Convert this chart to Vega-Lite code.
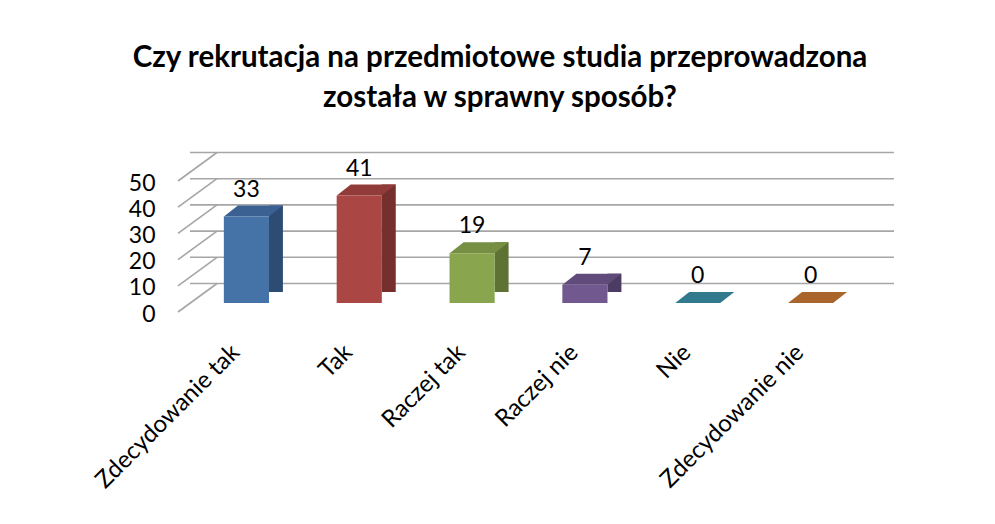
{
  "$schema": "https://vega.github.io/schema/vega-lite/v6.json",
  "width": 677,
  "height": 131,
  "autosize": {"type": "none"},
  "padding": {"left": 190, "top": 172, "right": 128, "bottom": 221},
  "background": "white",
  "config": {
    "view": {"stroke": null},
    "font": "Lato",
    "axisY": {"labelOverlap": false, "tickCount": 6, "values": [0, 10, 20, 30, 40, 50]}
  },
  "title": {
    "text": ["Czy rekrutacja na przedmiotowe studia przeprowadzona", "została w sprawny sposób?"],
    "anchor": "middle",
    "frame": "group",
    "dx": -28.5,
    "offset": 38,
    "font": "Lato",
    "fontSize": 29.5,
    "fontWeight": "bold",
    "lineHeight": 40,
    "color": "#000000"
  },
  "datasets": {
    "ticks": [{"v": 0}, {"v": 10}, {"v": 20}, {"v": 30}, {"v": 40}, {"v": 50}],
    "answers": [
      {"odp": "Zdecydowanie tak", "n": 33},
      {"odp": "Tak", "n": 41},
      {"odp": "Raczej tak", "n": 19},
      {"odp": "Raczej nie", "n": 7},
      {"odp": "Nie", "n": 0},
      {"odp": "Zdecydowanie nie", "n": 0}
    ]
  },
  "resolve": {"scale": {"color": "independent"}},
  "layer": [
    {
      "data": {"name": "ticks"},
      "mark": {"type": "rule", "color": "#a6a6a6", "strokeWidth": 1.6, "xOffset": 27, "x2Offset": 26, "yOffset": -19.5},
      "encoding": {
        "y": {"field": "v", "type": "quantitative", "scale": {"domain": [0, 50], "nice": false},
              "axis": {"values": [0, 10, 20, 30, 40, 50], "tickCount": 6, "domain": false, "ticks": false, "grid": false, "title": null,
                       "labelOverlap": false, "labelFontSize": 23, "labelFont": "Lato", "labelColor": "#000000",
                       "labelPadding": 35, "labelOffset": 11}}
      }
    },
    {
      "data": {"name": "ticks"},
      "mark": {"type": "rule", "color": "#a6a6a6", "strokeWidth": 1.6, "xOffset": -12, "x2Offset": 27, "yOffset": 9, "y2Offset": -19.5},
      "encoding": {
        "x": {"value": 0},
        "x2": {"value": 0},
        "y": {"field": "v", "type": "quantitative"},
        "y2": {"field": "v"}
      }
    },
    {
      "mark": {"type": "rule", "color": "#a6a6a6", "strokeWidth": 1.6, "xOffset": -12, "yOffset": 9, "y2Offset": 9},
      "encoding": {
        "x": {"value": 0},
        "y": {"datum": 0, "type": "quantitative"},
        "y2": {"datum": 50}
      }
    },
    {
      "mark": {"type": "rule", "color": "#a6a6a6", "strokeWidth": 1.6, "xOffset": -12, "x2Offset": -12, "yOffset": 9},
      "encoding": {
        "y": {"datum": 0, "type": "quantitative"}
      }
    },
    {
      "mark": {"type": "rule", "color": "#a6a6a6", "strokeWidth": 1.6, "xOffset": -12, "x2Offset": 26, "yOffset": 9, "y2Offset": -19.5},
      "encoding": {
        "x": {"value": "width"},
        "x2": {"value": "width"},
        "y": {"datum": 0, "type": "quantitative"},
        "y2": {"datum": 0}
      }
    },
    {
      "data": {"name": "answers"},
      "mark": {"type": "bar", "width": 14, "xOffset": 29.5, "yOffset": -11},
      "encoding": {
        "x": {"field": "odp", "type": "nominal", "sort": null, "scale": {"paddingInner": 0.6, "paddingOuter": 0.3},
              "axis": {"title": null, "domain": false, "ticks": false, "labelAngle": -45, "labelFontSize": 24, "labelFont": "Lato",
                       "labelColor": "#000000", "labelPadding": 37, "labelOffset": -19, "labelLimit": 0, "labelOverlap": false}},
        "y": {"field": "n", "type": "quantitative"},
        "color": {"field": "odp", "type": "nominal", "legend": null,
                  "scale": {"domain": ["Zdecydowanie tak", "Tak", "Raczej tak", "Raczej nie", "Nie", "Zdecydowanie nie"],
                            "range": ["#2D4C73", "#752F2D", "#5D7233", "#4C3B62", "#2B6B7D", "#9E5C25"]}}
      }
    },
    {
      "data": {"name": "answers"},
      "mark": {"type": "point", "filled": true, "opacity": 1, "fill": "white", "strokeWidth": 0, "size": 6400,
               "shape": "M0.5625,0L0.9125,-0.275L0.96,-0.275L0.96,0.03L0.5625,0.03Z"},
      "encoding": {
        "x": {"field": "odp", "type": "nominal", "sort": null},
        "y": {"datum": 0, "type": "quantitative"}
      }
    },
    {
      "data": {"name": "answers"},
      "mark": {"type": "point", "filled": true, "opacity": 1, "strokeWidth": 0, "size": 6400,
               "shape": "M-0.5625,0L0.5625,0L0.9125,-0.275L-0.2125,-0.275Z"},
      "encoding": {
        "x": {"field": "odp", "type": "nominal", "sort": null},
        "y": {"field": "n", "type": "quantitative"},
        "color": {"field": "odp", "type": "nominal", "legend": null,
                  "scale": {"domain": ["Zdecydowanie tak", "Tak", "Raczej tak", "Raczej nie", "Nie", "Zdecydowanie nie"],
                            "range": ["#3A6191", "#923C39", "#768F42", "#614B7B", "#31798C", "#A9652B"]}}
      }
    },
    {
      "data": {"name": "answers"},
      "mark": {"type": "bar"},
      "encoding": {
        "x": {"field": "odp", "type": "nominal", "sort": null},
        "y": {"field": "n", "type": "quantitative"},
        "color": {"field": "odp", "type": "nominal", "legend": null,
                  "scale": {"domain": ["Zdecydowanie tak", "Tak", "Raczej tak", "Raczej nie", "Nie", "Zdecydowanie nie"],
                            "range": ["#4572A7", "#AA4643", "#89A54E", "#71588F", "#4198AF", "#DB843D"]}}
      }
    },
    {
      "data": {"name": "answers"},
      "mark": {"type": "text", "font": "Lato", "fontSize": 23, "color": "#000000", "baseline": "middle", "yOffset": -27},
      "encoding": {
        "x": {"field": "odp", "type": "nominal", "sort": null},
        "y": {"field": "n", "type": "quantitative"},
        "text": {"field": "n", "type": "quantitative"}
      }
    }
  ]
}
